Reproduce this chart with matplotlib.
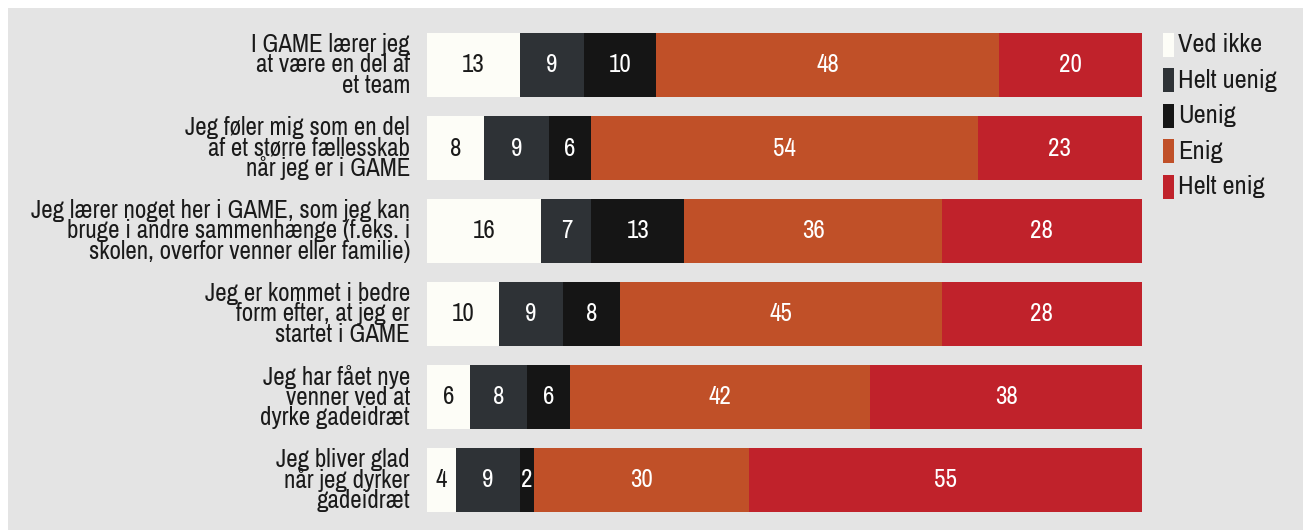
import matplotlib.pyplot as plt
from matplotlib.patches import Rectangle

plt.rcParams['font.family'] = ['Archivo Narrow', 'DejaVu Sans']

questions = [
    "I GAME lærer jeg\nat være en del af\net team",
    "Jeg føler mig som en del\naf et større fællesskab\nnår jeg er i GAME",
    "Jeg lærer noget her i GAME, som jeg kan\nbruge i andre sammenhænge (f.eks. i\nskolen, overfor venner eller familie)",
    "Jeg er kommet i bedre\nform efter, at jeg er\nstartet i GAME",
    "Jeg har fået nye\nvenner ved at\ndyrke gadeidræt",
    "Jeg bliver glad\nnår jeg dyrker\ngadeidræt",
]
categories = ["Ved ikke", "Helt uenig", "Uenig", "Enig", "Helt enig"]
ved_ikke = [13, 8, 16, 10, 6, 4]
helt_uenig = [9, 9, 7, 9, 8, 9]
uenig = [10, 6, 13, 8, 6, 2]
enig = [48, 54, 36, 45, 42, 30]
helt_enig = [20, 23, 28, 28, 38, 55]

series = [ved_ikke, helt_uenig, uenig, enig, helt_enig]
colors = ["#fdfdf7", "#2e3236", "#151515", "#c05028", "#c0222b"]
text_colors = ["#1a1a1a", "white", "white", "white", "white"]
bg = "#e4e4e4"

W, H = 1303, 530
fig = plt.figure(figsize=(W / 100, H / 100), dpi=100, facecolor="white")
fig.add_artist(Rectangle((8 / W, 0), 1, 1 - 8 / H, transform=fig.transFigure,
                         facecolor=bg, edgecolor="none", zorder=-10))

ax = fig.add_axes([427 / W, 18 / H, (1142 - 427) / W, (512 - 33) / H])
ax.set_facecolor("none")
h = 64 / 83
y = list(range(len(questions)))

left = [0] * len(questions)
for vals, col, tc in zip(series, colors, text_colors):
    ax.barh(y, vals, left=left, height=h, color=col, edgecolor="none")
    for i, v in enumerate(vals):
        ax.text(left[i] + v / 2, i, str(v), ha="center", va="center",
                color=tc, fontsize=18)
    left = [a + b for a, b in zip(left, vals)]

ax.set_xlim(0, 100)
ax.set_ylim(len(questions) - 1 + h / 2, -h / 2)
ax.set_xticks([])
ax.set_yticks([])
for s in ax.spines.values():
    s.set_visible(False)

for i, q in enumerate(questions):
    ax.annotate(q, xy=(0, i), xycoords=("axes fraction", "data"),
                xytext=(-17, 0), textcoords="offset pixels",
                ha="right", va="center", fontsize=18, color="#1a1a1a",
                linespacing=0.85, multialignment="right")

# legend
for k, (cat, col) in enumerate(zip(categories, colors)):
    cy = 45 + k * 35.4
    fig.add_artist(Rectangle((1163 / W, 1 - (cy + 12) / H), 11 / W, 24 / H,
                             transform=fig.transFigure, facecolor=col,
                             edgecolor="none"))
    fig.text(1178 / W, 1 - cy / H, cat, ha="left", va="center",
             fontsize=19, color="#1a1a1a")

fig.savefig("out.png", dpi=100, facecolor=fig.get_facecolor())
